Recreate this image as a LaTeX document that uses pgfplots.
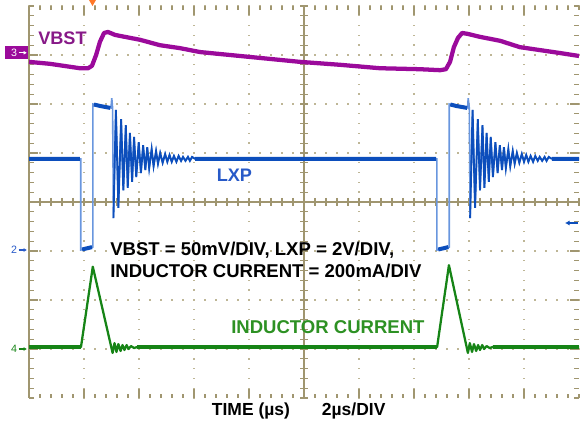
\documentclass[border=0pt]{standalone}
\usepackage{pgfplots}
\pgfplotsset{compat=1.18}
\usepackage{fontspec}
\setmainfont{Liberation Sans}
\usetikzlibrary{arrows.meta}
\definecolor{gridc}{RGB}{160,150,112}
\definecolor{dotc}{RGB}{190,182,150}
\definecolor{vbst}{RGB}{155,10,155}
\definecolor{vbstt}{RGB}{135,25,135}
\definecolor{lxp}{RGB}{12,78,188}
\definecolor{lxpl}{RGB}{105,150,222}
\definecolor{lxpt}{RGB}{40,90,200}
\definecolor{ind}{RGB}{22,132,22}
\definecolor{indt}{RGB}{45,145,35}
\definecolor{orng}{RGB}{255,120,40}
\begin{document}
\begin{tikzpicture}
\useasboundingbox (0,0) rectangle (435pt,318pt);
\begin{scope}[x=0.75pt,y=-0.75pt,yshift=318pt]
  % dotted grid lines
  \foreach \k in {1,2,3,4,6,7,8,9}{
    \foreach \j in {0,...,40}{
      \fill[dotc] ({29+55*\k-0.7},{6+9.8*\j-0.7}) rectangle +(1.4,1.4);
    }
  }
  \foreach \k in {0,1,2,3,5,6,7}{
    \foreach \j in {0,...,50}{
      \fill[dotc] ({29+11*\j-0.7},{6+49*\k-0.7}) rectangle +(1.4,1.4);
    }
  }
  % centre cross
  \draw[gridc,line width=1pt] (304,6)--(304,398);
  \draw[gridc,line width=1pt] (29,202)--(579,202);
  \foreach \j in {0,...,40}{
    \draw[gridc,line width=0.9pt] (300,{6+9.8*\j})--(308,{6+9.8*\j});
    \draw[gridc,line width=0.9pt] (29,{6+9.8*\j})--(34,{6+9.8*\j});
    \draw[gridc,line width=0.9pt] (574,{6+9.8*\j})--(579,{6+9.8*\j});
  }
  \foreach \j in {0,...,50}{
    \draw[gridc,line width=0.9pt] ({29+11*\j},198)--({29+11*\j},206);
    \draw[gridc,line width=0.9pt] ({29+11*\j},6)--({29+11*\j},10);
    \draw[gridc,line width=0.9pt] ({29+11*\j},394)--({29+11*\j},398);
  }
  \foreach \k in {1,...,9}{
    \draw[gridc,line width=0.9pt] ({29+55*\k},6)--({29+55*\k},15);
    \draw[gridc,line width=0.9pt] ({29+55*\k},389)--({29+55*\k},398);
  }
  \foreach \k in {1,...,7}{
    \draw[gridc,line width=0.9pt] (29,{6+49*\k})--(38,{6+49*\k});
    \draw[gridc,line width=0.9pt] (570,{6+49*\k})--(579,{6+49*\k});
  }
  \draw[gridc,line width=1.1pt] (29,6)--(29,398);
\end{scope}

\begin{axis}[at={(21.75pt,19.5pt)},anchor=south west,
  width=412.5pt,height=294pt,scale only axis,
  xmin=0,xmax=20,ymin=0,ymax=8,hide axis,clip=false,
  unbounded coords=jump]
% VBST
\addplot[vbst,line width=3.2pt,line join=round] table {
0.00 6.86
0.76 6.82
1.85 6.73
2.15 6.73
2.29 6.78
2.44 7.00
2.58 7.27
2.73 7.45
2.87 7.47
3.13 7.41
3.49 7.37
4.04 7.31
4.76 7.20
5.49 7.14
6.22 7.06
7.31 7.00
8.40 6.94
9.85 6.86
11.31 6.80
12.76 6.73
14.22 6.71
14.95 6.69
15.16 6.71
15.31 6.86
15.45 7.16
15.60 7.35
15.75 7.45
15.96 7.43
16.40 7.37
17.13 7.29
17.85 7.16
18.58 7.10
19.31 7.04
20.00 6.98
};
% LXP full trace (fast edges light)
\addplot[lxpl,line width=1.2pt] table {
0.00 4.88
1.88 4.88
1.88 3.02
2.07 3.04
2.32 3.08
2.32 6.00
2.58 5.96
2.98 5.92
3.01 6.12
3.04 5.92
3.07 3.67
3.16 5.88
3.25 3.88
3.35 5.69
3.43 4.24
3.52 5.57
3.59 4.29
3.67 5.41
3.75 4.41
3.82 5.33
3.90 4.51
3.99 5.22
4.07 4.59
4.15 5.16
4.23 4.65
4.30 5.12
4.37 4.69
4.46 5.08
4.53 4.73
4.62 5.04
4.69 4.78
4.77 5.00
4.86 4.80
4.95 4.98
5.03 4.82
5.11 4.96
5.19 4.82
5.27 4.94
5.36 4.82
5.44 4.94
5.53 4.84
5.60 4.92
5.69 4.84
5.78 4.92
5.85 4.84
5.93 4.92
6.04 4.88
14.83 4.88
14.83 3.02
15.02 3.04
15.28 3.08
15.28 6.00
15.53 5.96
15.95 5.92
15.97 6.12
16.01 5.92
16.04 3.67
16.13 5.88
16.22 3.88
16.32 5.69
16.40 4.24
16.49 5.57
16.56 4.29
16.64 5.41
16.72 4.41
16.79 5.33
16.87 4.51
16.96 5.22
17.04 4.59
17.12 5.16
17.20 4.65
17.27 5.12
17.34 4.69
17.43 5.08
17.50 4.73
17.59 5.04
17.66 4.78
17.74 5.00
17.83 4.80
17.92 4.98
18.00 4.82
18.08 4.96
18.16 4.82
18.24 4.94
18.33 4.82
18.41 4.94
18.50 4.84
18.57 4.92
18.66 4.84
18.75 4.92
18.82 4.84
18.90 4.92
19.01 4.88
20.00 4.88
};
% LXP ringing (dark)
\addplot[lxp,line width=1.4pt] table {
3.07 3.67
3.16 5.88
3.25 3.88
3.35 5.69
3.43 4.24
3.52 5.57
3.59 4.29
3.67 5.41
3.75 4.41
3.82 5.33
3.90 4.51
3.99 5.22
4.07 4.59
4.15 5.16
4.23 4.65
4.30 5.12
4.37 4.69
4.46 5.08
4.53 4.73
4.62 5.04
4.69 4.78
4.77 5.00
4.86 4.80
4.95 4.98
5.03 4.82
5.11 4.96
5.19 4.82
5.27 4.94
5.36 4.82
5.44 4.94
5.53 4.84
5.60 4.92
5.69 4.84
5.78 4.92
5.85 4.84
5.93 4.92
6.04 4.88
nan nan
16.04 3.67
16.13 5.88
16.22 3.88
16.32 5.69
16.40 4.24
16.49 5.57
16.56 4.29
16.64 5.41
16.72 4.41
16.79 5.33
16.87 4.51
16.96 5.22
17.04 4.59
17.12 5.16
17.20 4.65
17.27 5.12
17.34 4.69
17.43 5.08
17.50 4.73
17.59 5.04
17.66 4.78
17.74 5.00
17.83 4.80
17.92 4.98
18.00 4.82
18.08 4.96
18.16 4.82
18.24 4.94
18.33 4.82
18.41 4.94
18.50 4.84
18.57 4.92
18.66 4.84
18.75 4.92
18.82 4.84
18.90 4.92
19.01 4.88
};
% LXP flat (noisy, thick)
\addplot[lxp,line width=3pt] table {
0.00 4.88
1.85 4.88
nan nan
1.93 3.03
2.29 3.08
nan nan
2.36 5.99
2.58 5.96
2.96 5.92
nan nan
6.04 4.88
14.80 4.88
nan nan
14.88 3.03
15.25 3.08
nan nan
15.32 5.99
15.53 5.96
15.93 5.92
nan nan
19.01 4.88
20.00 4.88
};
% Inductor current
\addplot[ind,line width=1.7pt,line join=round] table {
0.00 1.04
1.89 1.04
2.32 2.68
3.04 0.92
3.11 1.12
3.18 0.94
3.25 1.10
3.33 0.96
3.40 1.08
3.47 0.98
3.55 1.08
3.62 1.00
3.71 1.06
3.82 1.02
3.93 1.04
14.84 1.04
15.27 2.71
15.96 0.92
16.03 1.12
16.11 0.94
16.18 1.10
16.26 0.96
16.33 1.08
16.40 0.98
16.48 1.08
16.55 1.00
16.64 1.06
16.75 1.02
16.86 1.04
20.00 1.04
};
\addplot[ind,line width=2.8pt] table {
0.00 1.04
1.89 1.04
nan nan
3.93 1.04
14.84 1.04
nan nan
16.86 1.04
20.00 1.04
};
\end{axis}

\begin{scope}[x=0.75pt,y=-0.75pt,yshift=318pt]
  \node[anchor=base west,inner sep=0,text=vbstt,font=\fontsize{13.6}{16}\selectfont\bfseries] at (38,45) {VBST};
  \node[anchor=base west,inner sep=0,text=lxpt,font=\fontsize{13.6}{16}\selectfont\bfseries] at (216.5,181.5) {LXP};
  \node[anchor=base west,inner sep=0,text=black,font=\fontsize{13.9}{16}\selectfont\bfseries] at (110,255.7) {VBST = 50mV/DIV, LXP = 2V/DIV,};
  \node[anchor=base west,inner sep=0,text=black,font=\fontsize{13.9}{16}\selectfont\bfseries] at (110,277.7) {INDUCTOR CURRENT = 200mA/DIV};
  \node[anchor=base west,inner sep=0,text=indt,font=\fontsize{13.9}{16}\selectfont\bfseries] at (231,334) {INDUCTOR CURRENT};
  \node[anchor=base west,inner sep=0,text=black,font=\fontsize{13.1}{15}\selectfont\bfseries] at (211.7,415) {TIME (µs)};
  \node[anchor=base west,inner sep=0,text=black,font=\fontsize{13.1}{15}\selectfont\bfseries] at (321.7,415) {2µs/DIV};
  % channel markers
  \fill[vbst] (5,46) rectangle (28,59);
  \node[text=white,inner sep=0,font=\fontsize{8}{9}\selectfont] at (14.2,52.8) {3};
  \draw[white,line width=0.8pt,-{Latex[length=2.6pt,width=3pt]}] (18.5,52.8)--(27,52.8);
  \node[text=lxpt,inner sep=0,font=\fontsize{8}{9}\selectfont] at (14.2,250) {2};
  \draw[lxpt,line width=0.8pt,-{Latex[length=2.6pt,width=3pt]}] (18.5,250)--(27,250);
  \node[text=ind,inner sep=0,font=\fontsize{8}{9}\selectfont] at (14.2,349) {4};
  \draw[ind,line width=0.8pt,-{Latex[length=2.6pt,width=3pt]}] (18.5,349)--(27,349);
  % trigger markers
  \fill[orng] (89,0)--(96,0)--(92.5,6)--cycle;
  \draw[lxp,line width=1pt,-{Latex[length=3.5pt,width=4pt]}] (578,223)--(565,223);
\end{scope}
\end{tikzpicture}
\end{document}
